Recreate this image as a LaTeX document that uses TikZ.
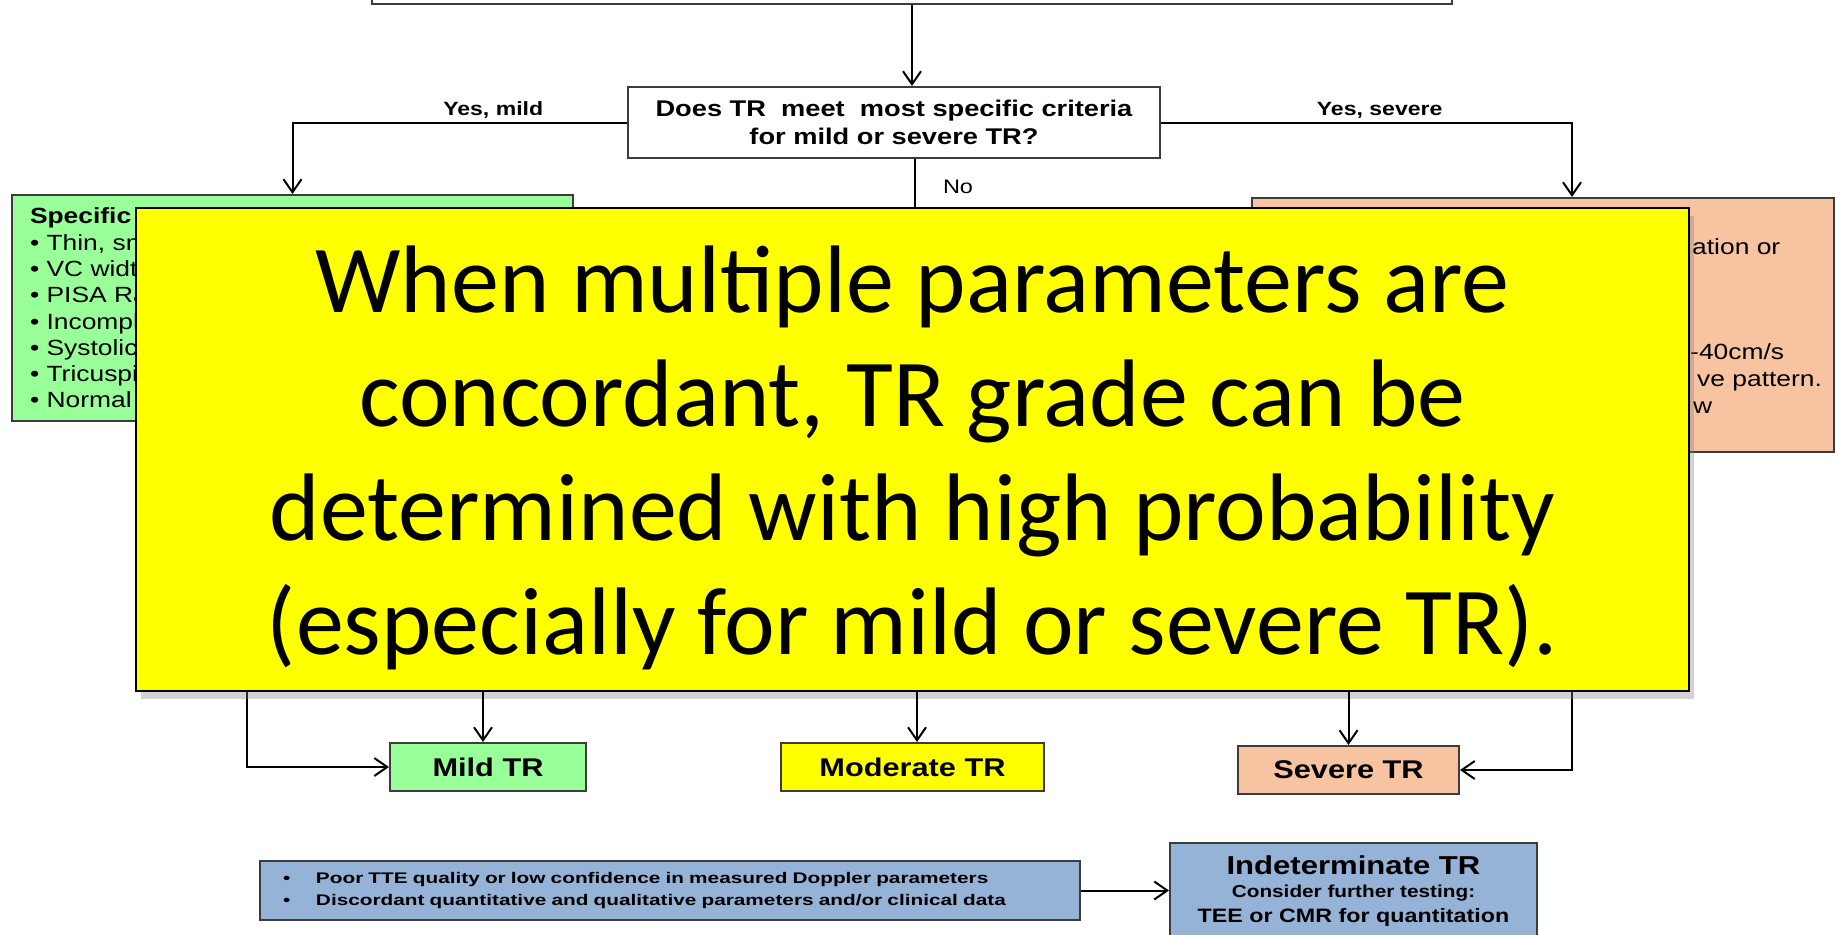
\documentclass[tikz,border=0pt]{standalone}
\usepackage{fontspec}
\setmainfont{Liberation Sans}[FakeStretch=1.2]
\newfontfamily\widesans{Liberation Sans}[FakeStretch=1.35]
\newfontfamily\slidefont{Carlito}
\usetikzlibrary{arrows.meta,shadows}

\definecolor{mildgreen}{HTML}{99FF99}
\definecolor{sevorange}{HTML}{F8C3A0}
\definecolor{indetblue}{HTML}{95B3D7}
\definecolor{noteyellow}{RGB}{255,255,0}
\definecolor{boxedge}{HTML}{3C3C3C}

\tikzset{
  box/.style={draw=boxedge, line width=2pt, inner sep=0pt, align=center},
  grade/.style={box, minimum height=48pt, font=\fontsize{25.6}{30}\selectfont\bfseries},
  lbl/.style={inner sep=3pt, font=\fontsize{19.2}{23}\selectfont\bfseries},
  link/.style={line width=2pt, draw=black},
  >={Straight Barb[length=13pt,width=18pt]}
}

\begin{document}
\begin{tikzpicture}[x=1pt,y=-1pt]
  \useasboundingbox (0,0) rectangle (1835,934);
  \clip (0,0) rectangle (1835,934);

  % question
  \node[box, minimum width=1080pt, minimum height=104pt] (top) at (912,-48) {};
  \node[box, minimum width=532pt, minimum height=71pt,
        font=\fontsize{22.7}{28}\selectfont\bfseries] (crit) at (894,122.5)
    {Does TR~ meet~ most specific criteria\\for mild or severe TR?};
  \draw[link,->] (top.south) -- (top.south |- crit.north);

  % specific criteria
  \node[box, fill=mildgreen, minimum width=561pt, minimum height=226pt,
        text width=525pt, align=left, font=\fontsize{22}{26.3}\selectfont] (spmild) at (292.5,308)
    {\textbf{Specific}\\• Thin, sm\\• VC widt\\• PISA Ra\\• Incompl\\• Systolic\\• Tricuspi\\• Normal};
  \node[box, fill=sevorange, minimum width=582pt, minimum height=254pt] (spsev) at (1543,325) {};
  \node[anchor=north west, inner sep=0pt, align=left, font=\fontsize{22}{27}\selectfont] (sevtext) at (1692,238)
    {ation or\\[78pt]\hspace*{-2pt}-40cm/s\\\hspace*{5pt}ve pattern.\\\hspace*{1pt}w};

  \draw[link,->] (crit.west) -| node[lbl, pos=0.2, above] {Yes, mild} (spmild.north);
  \draw[link,->] (crit.east) -| node[lbl, pos=0.266, above] {Yes, severe} ([xshift=29pt]spsev.north);

  % grades
  \node[grade, fill=mildgreen, minimum width=196pt] (mild) at (488,767) {Mild TR};
  \node[grade, fill=noteyellow, minimum width=263pt] (moder) at (912.5,767) {Moderate TR};
  \node[grade, fill=sevorange, minimum width=221pt] (severe) at (1348.5,770) {Severe TR};
  \draw[link,->] ([xshift=-45.5pt]spmild.south) |- (mild.west);
  \draw[link,->] ([xshift=29pt]spsev.south) |- (severe.east);

  % overlay
  \node[draw=black, line width=2pt, fill=noteyellow, minimum width=1553pt, minimum height=483pt,
        drop shadow={shadow xshift=5pt, shadow yshift=-8pt, opacity=0.35}] (note) at (912.5,449.5) {};
  \draw[link] ([xshift=21pt]crit.south) -- node[lbl, pos=0.58, right=24pt, font=\fontsize{19.6}{23}\selectfont] {No}
    ([xshift=21pt]crit.south |- note.north);
  \node[align=center, font=\slidefont\fontsize{96}{114}\selectfont] (notetext) at ([yshift=-8pt]note.center)
    {When multiple parameters are\\concordant, TR grade can be\\determined with high probability\\(especially for mild or severe TR).};

  \draw[link,->] ([xshift=-5pt]note.south -| mild.north) -- ([xshift=-5pt]mild.north);
  \draw[link,->] ([xshift=4.5pt]note.south -| moder.north) -- ([xshift=4.5pt]moder.north);
  \draw[link,->] (note.south -| severe.north) -- (severe.north);

  % indeterminate
  \node[box, fill=indetblue, minimum width=820pt, minimum height=59pt, text width=774pt, align=left,
        font=\widesans\fontsize{15.4}{22}\selectfont\bfseries] (causes) at (670,890.5)
    {\makebox[33pt][l]{•}Poor TTE quality or low confidence in measured Doppler parameters\\
     \makebox[33pt][l]{•}Discordant quantitative and qualitative parameters and/or clinical data};
  \node[box, fill=indetblue, minimum width=367pt, minimum height=96pt,
        font=\fontsize{19.4}{23}\selectfont\bfseries] (indet) at (1353.5,891)
    {{\fontsize{25.9}{23}\selectfont Indeterminate TR}\\[0pt]
     {\fontsize{17.3}{23}\selectfont Consider further testing:}\\[1.5pt]
     TEE or CMR for quantitation};
  \draw[link,->] (causes.east) -- (causes.east -| indet.west);

\end{tikzpicture}
\end{document}
